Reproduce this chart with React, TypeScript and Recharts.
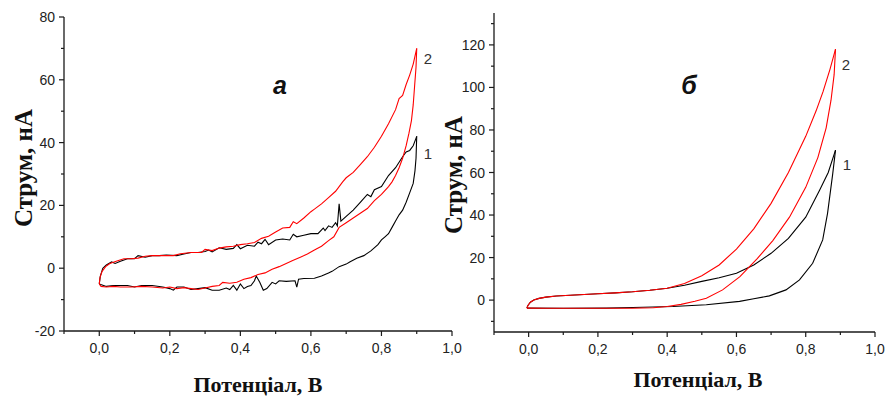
import { LineChart, Line, XAxis, YAxis } from "recharts";

// Панель "а": [потенціал, В; струм, нА]
const aRedForward = [
  [0.0, -5.0], [0.002, -3.0], [0.008, -1.0], [0.018, 0.5], [0.03, 1.5], [0.05, 2.3], [0.07, 3.0],
  [0.09, 3.0], [0.11, 3.2], [0.13, 3.8], [0.15, 4.0], [0.18, 4.0], [0.21, 4.0], [0.23, 4.6],
  [0.26, 5.0], [0.29, 5.0], [0.3, 6.0], [0.32, 5.6], [0.34, 6.4], [0.36, 6.8], [0.38, 7.0],
  [0.4, 7.5], [0.42, 7.8], [0.44, 8.2], [0.46, 9.5], [0.48, 10.2], [0.5, 11.5], [0.52, 12.8],
  [0.54, 13.0], [0.55, 14.8], [0.56, 14.2], [0.58, 16.0], [0.6, 18.0], [0.61, 18.8], [0.63, 20.5],
  [0.65, 22.5], [0.67, 24.5], [0.69, 27.5], [0.7, 28.8], [0.72, 30.5], [0.74, 33.0], [0.76, 35.5],
  [0.78, 38.5], [0.8, 42.0], [0.82, 46.0], [0.84, 50.5], [0.85, 54.0], [0.86, 55.0], [0.87, 58.5],
  [0.88, 61.5], [0.89, 65.0], [0.9, 70.0],
];
const aRedReturn = [
  [0.0, -5.0], [0.005, -5.8], [0.02, -6.0], [0.04, -5.8], [0.06, -6.0], [0.09, -6.0], [0.12, -5.8],
  [0.15, -6.0], [0.18, -6.3], [0.2, -6.0], [0.22, -6.5], [0.24, -6.2], [0.26, -6.5], [0.28, -6.8],
  [0.3, -6.3], [0.32, -5.8], [0.34, -5.5], [0.35, -4.5], [0.37, -4.8], [0.39, -4.5], [0.41, -3.5],
  [0.43, -3.0], [0.45, -2.0], [0.47, -1.5], [0.49, -0.3], [0.51, 0.5], [0.53, 1.5], [0.55, 2.5],
  [0.57, 3.5], [0.59, 4.5], [0.61, 5.8], [0.63, 7.0], [0.65, 8.8], [0.665, 10.0], [0.68, 13.0],
  [0.7, 14.5], [0.72, 16.0], [0.74, 17.5], [0.76, 19.0], [0.78, 21.5], [0.8, 23.5], [0.82, 26.0],
  [0.83, 27.5], [0.84, 29.5], [0.85, 32.0], [0.86, 35.0], [0.87, 39.0], [0.878, 43.0], [0.885, 47.0],
  [0.89, 52.0], [0.894, 58.0], [0.898, 64.0], [0.9, 70.0],
];
const aBlackForward = [
  [0.0, -5.0], [0.003, -2.5], [0.01, 0.0], [0.02, 1.0], [0.035, 2.0], [0.045, 1.5], [0.06, 2.2],
  [0.08, 3.0], [0.1, 3.0], [0.11, 4.0], [0.13, 3.5], [0.15, 4.0], [0.17, 4.0], [0.19, 4.2],
  [0.22, 4.0], [0.24, 4.5], [0.26, 5.0], [0.28, 5.0], [0.3, 5.3], [0.31, 5.8], [0.32, 5.2],
  [0.34, 6.5], [0.36, 6.0], [0.38, 6.3], [0.39, 7.5], [0.4, 6.2], [0.42, 7.3], [0.44, 7.0],
  [0.45, 8.3], [0.46, 7.8], [0.47, 9.2], [0.48, 7.5], [0.5, 9.0], [0.52, 9.3], [0.54, 9.0],
  [0.55, 10.8], [0.56, 10.0], [0.58, 10.5], [0.6, 11.0], [0.62, 11.0], [0.635, 12.8], [0.64, 12.0],
  [0.65, 13.5], [0.66, 13.0], [0.67, 14.5], [0.675, 13.5], [0.68, 20.5], [0.685, 15.0], [0.7, 16.5],
  [0.72, 18.5], [0.74, 21.0], [0.76, 23.5], [0.77, 22.8], [0.78, 25.0], [0.8, 26.0], [0.82, 29.5],
  [0.84, 32.0], [0.86, 35.5], [0.87, 37.0], [0.88, 37.5], [0.89, 39.0], [0.9, 42.0],
];
const aBlackReturn = [
  [0.0, -5.0], [0.02, -5.8], [0.04, -5.5], [0.06, -5.5], [0.08, -5.5], [0.1, -6.0], [0.12, -5.5],
  [0.15, -5.5], [0.18, -6.0], [0.2, -6.5], [0.21, -7.0], [0.22, -6.0], [0.24, -6.0], [0.26, -6.8],
  [0.28, -6.5], [0.3, -6.2], [0.32, -7.0], [0.34, -7.0], [0.36, -6.3], [0.37, -6.8], [0.38, -5.5],
  [0.39, -7.0], [0.4, -5.0], [0.41, -6.5], [0.42, -5.8], [0.43, -5.5], [0.44, -4.0], [0.445, -2.5],
  [0.455, -4.5], [0.465, -7.0], [0.475, -6.5], [0.49, -4.5], [0.5, -5.0], [0.51, -4.0], [0.53, -4.2],
  [0.555, -4.0], [0.56, -6.0], [0.565, -3.5], [0.58, -3.3], [0.61, -3.2], [0.63, -2.5], [0.65, -1.5],
  [0.66, -1.0], [0.68, 0.5], [0.7, 1.3], [0.71, 2.0], [0.73, 3.2], [0.75, 4.0], [0.77, 5.5],
  [0.79, 7.5], [0.8, 9.0], [0.81, 10.0], [0.82, 11.0], [0.83, 13.0], [0.84, 15.0], [0.85, 17.0],
  [0.86, 18.5], [0.87, 21.0], [0.88, 24.0], [0.89, 27.0], [0.895, 31.0], [0.898, 35.0], [0.9, 42.0],
];

// Панель "б"
const bRedForward = [
  [-0.005, -3.75], [-0.002, -2.5], [0.005, -1.0], [0.015, 0.0], [0.03, 0.8], [0.05, 1.4],
  [0.08, 1.9], [0.12, 2.3], [0.16, 2.6], [0.2, 3.0], [0.25, 3.4], [0.3, 3.9], [0.35, 4.6],
  [0.4, 5.6], [0.45, 7.8], [0.5, 11.5], [0.55, 16.5], [0.6, 24.0], [0.65, 33.5], [0.7, 45.5],
  [0.75, 60.0], [0.8, 77.0], [0.83, 89.0], [0.85, 98.0], [0.87, 108.5], [0.886, 118.0],
];
const bRedReturn = [
  [-0.005, -3.75], [0.05, -3.8], [0.1, -3.8], [0.2, -3.8], [0.3, -3.8], [0.36, -3.6], [0.4, -3.0],
  [0.44, -2.0], [0.48, -0.5], [0.513, 0.9], [0.56, 4.8], [0.61, 11.0], [0.66, 19.5], [0.705, 28.0],
  [0.753, 39.0], [0.8, 53.0], [0.835, 67.0], [0.859, 81.0], [0.873, 94.0], [0.882, 106.0],
  [0.886, 118.0],
];
const bBlackForward = [
  [-0.005, -3.75], [-0.002, -2.5], [0.005, -1.0], [0.015, 0.0], [0.03, 0.8], [0.05, 1.4],
  [0.08, 1.9], [0.12, 2.3], [0.16, 2.6], [0.2, 3.0], [0.25, 3.4], [0.3, 3.9], [0.35, 4.6],
  [0.4, 5.6], [0.45, 7.0], [0.5, 8.8], [0.55, 10.5], [0.6, 12.6], [0.65, 16.5], [0.7, 22.0],
  [0.75, 29.0], [0.8, 39.0], [0.84, 51.7], [0.865, 60.0], [0.886, 70.5],
];
const bBlackReturn = [
  [-0.005, -3.75], [0.1, -3.8], [0.224, -3.75], [0.3, -3.5], [0.416, -3.0], [0.513, -2.2],
  [0.609, -0.6], [0.65, 0.6], [0.695, 2.0], [0.743, 4.8], [0.782, 9.5], [0.82, 17.3],
  [0.849, 28.3], [0.863, 40.8], [0.878, 59.5], [0.886, 70.5],
];

const xTicks = [-1, 0, 1, 2, 3, 4, 5, 6, 7, 8, 9, 10].map((t) => t / 10);
const aYTicks = [-20, -10, 0, 10, 20, 30, 40, 50, 60, 70, 80];
const bYTicks = [-10, 0, 10, 20, 30, 40, 50, 60, 70, 80, 90, 100, 110, 120, 130];

const toPoints = (arr: number[][]) => arr.map(([v, i]) => ({ v, i }));

const tickFont = "'Liberation Sans', Arial, sans-serif";
const titleFont = "'Liberation Serif', 'Times New Roman', serif";
const axisColor = "#1a1a1a";

const fmtX = (v: number) => v.toFixed(1).replace(".", ",");

function makeXTick(axisY: number) {
  return (props: any) => {
    const { x, payload } = props;
    const major = Math.round(payload.value * 10) % 2 === 0;
    return (
      <g>
        <line x1={x} x2={x} y1={axisY} y2={axisY + (major ? 5 : 3)} stroke={axisColor} strokeWidth={1.2} />
        {major && (
          <text x={x} y={axisY + 22} textAnchor="middle" fontFamily={tickFont} fontSize={14} fill="#222">
            {fmtX(payload.value)}
          </text>
        )}
      </g>
    );
  };
}

function makeYTick(axisX: number) {
  return (props: any) => {
    const { y, payload } = props;
    const major = Math.round(payload.value) % 20 === 0;
    return (
      <g>
        <line x1={axisX - (major ? 5 : 3)} x2={axisX} y1={y} y2={y} stroke={axisColor} strokeWidth={1.2} />
        {major && (
          <text x={axisX - 9} y={y + 5} textAnchor="end" fontFamily={tickFont} fontSize={14} fill="#222">
            {payload.value}
          </text>
        )}
      </g>
    );
  };
}

interface PanelProps {
  width: number;
  top: number;
  right: number;
  left: number;
  bottom: number;
  yDomain: [number, number];
  yTicks: number[];
  axisX: number;
  axisY: number;
  series: { data: number[][]; color: string }[];
}

function Panel({ width, top, right, left, bottom, yDomain, yTicks, axisX, axisY, series }: PanelProps) {
  return (
    <LineChart width={width} height={396} margin={{ top, right, left, bottom }}>
      <XAxis
        type="number"
        dataKey="v"
        domain={[-0.1, 1.0]}
        ticks={xTicks}
        interval={0}
        height={30}
        allowDataOverflow
        axisLine={{ stroke: axisColor, strokeWidth: 1.6 }}
        tickLine={false}
        tick={makeXTick(axisY)}
      />
      <YAxis
        type="number"
        dataKey="i"
        domain={yDomain}
        ticks={yTicks}
        interval={0}
        width={40}
        allowDataOverflow
        axisLine={{ stroke: axisColor, strokeWidth: 1.3 }}
        tickLine={false}
        tick={makeYTick(axisX)}
      />
      {series.map((s, k) => (
        <Line
          key={k}
          data={toPoints(s.data)}
          dataKey="i"
          type="linear"
          stroke={s.color}
          strokeWidth={1.1}
          dot={false}
          activeDot={false}
          isAnimationActive={false}
        />
      ))}
    </LineChart>
  );
}

export default function App() {
  const black = "#000000";
  const red = "#ff0000";
  return (
    <div style={{ position: "absolute", left: 0, top: 0, width: 885, height: 396, background: "#fff" }}>
      <div style={{ position: "absolute", left: 0, top: 0 }}>
        <Panel
          width={462}
          top={17}
          right={10}
          left={24}
          bottom={35}
          yDomain={[-20, 80]}
          yTicks={aYTicks}
          axisX={64}
          axisY={331}
          series={[
            { data: aBlackForward, color: black },
            { data: aBlackReturn, color: black },
            { data: aRedForward, color: red },
            { data: aRedReturn, color: red },
          ]}
        />
      </div>
      <div style={{ position: "absolute", left: 440, top: 0 }}>
        <Panel
          width={445}
          top={13}
          right={10}
          left={14}
          bottom={34}
          yDomain={[-15, 135]}
          yTicks={bYTicks}
          axisX={54}
          axisY={332}
          series={[
            { data: bBlackForward, color: black },
            { data: bBlackReturn, color: black },
            { data: bRedForward, color: red },
            { data: bRedReturn, color: red },
          ]}
        />
      </div>
      <svg width={885} height={396} style={{ position: "absolute", left: 0, top: 0, pointerEvents: "none" }}>
        <g fontFamily={titleFont} fontWeight="bold" fill="#111">
          <text x={32} y={168} transform="rotate(-90 32 168)" textAnchor="middle" fontSize={25}>
            Струм, нА
          </text>
          <text x={462} y={175} transform="rotate(-90 462 175)" textAnchor="middle" fontSize={25}>
            Струм, нА
          </text>
          <text x={258} y={392} textAnchor="middle" fontSize={22}>Потенціал, В</text>
          <text x={698} y={387} textAnchor="middle" fontSize={22}>Потенціал, В</text>
        </g>
        <g fontFamily={tickFont} fontWeight="bold" fontStyle="italic" fontSize={25} fill="#111">
          <text x={280} y={94} textAnchor="middle">a</text>
          <text x={689} y={94} textAnchor="middle">б</text>
        </g>
        <g fontFamily={tickFont} fontSize={15} fill="#333">
          <text x={428} y={64} textAnchor="middle">2</text>
          <text x={428} y={159} textAnchor="middle">1</text>
          <text x={846} y={70} textAnchor="middle">2</text>
          <text x={847} y={170} textAnchor="middle">1</text>
        </g>
      </svg>
    </div>
  );
}
